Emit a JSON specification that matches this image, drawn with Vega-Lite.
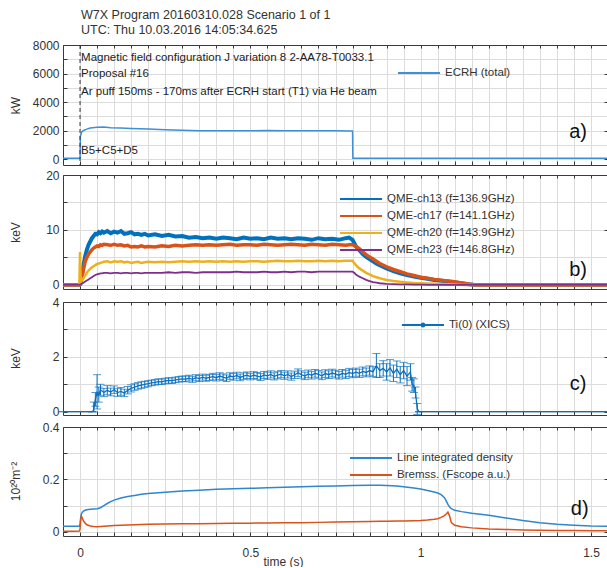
{
 "$schema": "https://vega.github.io/schema/vega-lite/v6.json",
 "padding": {"left": 8, "top": 8, "right": 0, "bottom": 0},
 "background": "white",
 "spacing": 3,
 "resolve": {"scale": {"color": "independent"}, "legend": {"color": "independent"}},
 "config": {
  "font": "Liberation Sans",
  "view": {"stroke": null},
  "axis": {"domainColor": "#3a3a3a", "tickColor": "#3a3a3a", "gridColor": "#dcdcdc", "labelColor": "#333", "labelFont": "Liberation Sans", "labelFontSize": 12, "titleFont": "Liberation Sans", "titleFontSize": 12, "titleFontWeight": "normal", "titleColor": "#333", "tickSize": -4, "domainWidth": 1, "labelPadding": 8},
  "legend": {"orient": "none", "padding": 0, "labelFont": "Liberation Sans", "labelFontSize": 11.5, "labelColor": "#333", "symbolType": "M-4.2,0H4.2", "symbolStrokeWidth": 2, "symbolSize": 100, "title": null, "labelOffset": 20, "rowPadding": 5}
 },
 "datasets": {
  "ecrh": [
   {"t": -0.05, "p": 50}, {"t": -0.001, "p": 50}, {"t": 0.0, "p": 50}, {"t": 0.001, "p": 1600}, {"t": 0.005, "p": 1900}, {"t": 0.01, "p": 2000}, {"t": 0.02, "p": 2100}, {"t": 0.03, "p": 2180}, {"t": 0.05, "p": 2230}, {"t": 0.07, "p": 2250}, {"t": 0.09, "p": 2200}, {"t": 0.12, "p": 2170}, {"t": 0.15, "p": 2140}, {"t": 0.2, "p": 2100}, {"t": 0.25, "p": 2060}, {"t": 0.3, "p": 2020}, {"t": 0.35, "p": 1990}, {"t": 0.4, "p": 1980}, {"t": 0.45, "p": 1990}, {"t": 0.5, "p": 1980}, {"t": 0.55, "p": 2000}, {"t": 0.6, "p": 1990}, {"t": 0.65, "p": 1980}, {"t": 0.7, "p": 1990}, {"t": 0.75, "p": 1980}, {"t": 0.79, "p": 1970}, {"t": 0.8, "p": 1970}, {"t": 0.801, "p": 50}, {"t": 1.55, "p": 50}
  ],
  "notesA": [
   {"t": 0.003, "v": 7087, "s": "Magnetic field configuration J variation 8 2-AA78-T0033.1"},
   {"t": 0.003, "v": 5965, "s": "Proposal #16"},
   {"t": 0.003, "v": 4701, "s": "Ar puff  150ms - 170ms after ECRH start (T1)  via He beam"},
   {"t": 0.003, "v": 561, "s": "B5+C5+D5"}
  ],
  "qme": [
   {"t": -0.05, "ch13": 0, "ch17": 0, "ch20": 0, "ch23": 0},
   {"t": -0.002, "ch13": 0, "ch17": 0, "ch20": 0, "ch23": 0},
   {"t": 0.0, "ch13": 0.1, "ch17": 0.1, "ch20": 6.0, "ch23": 0.05},
   {"t": 0.002, "ch13": 0.3, "ch17": 0.3, "ch20": 0.4, "ch23": 0.1},
   {"t": 0.005, "ch13": 1.5, "ch17": 1.2, "ch20": 0.8, "ch23": 0.2},
   {"t": 0.01, "ch13": 3.5, "ch17": 2.8, "ch20": 1.2, "ch23": 0.4},
   {"t": 0.015, "ch13": 5.2, "ch17": 4.2, "ch20": 1.7, "ch23": 0.6},
   {"t": 0.02, "ch13": 6.4, "ch17": 5.0, "ch20": 2.2, "ch23": 0.8},
   {"t": 0.025, "ch13": 7.3, "ch17": 5.6, "ch20": 2.6, "ch23": 1.0},
   {"t": 0.03, "ch13": 7.9, "ch17": 6.0, "ch20": 2.9, "ch23": 1.2},
   {"t": 0.035, "ch13": 8.5, "ch17": 6.4, "ch20": 3.2, "ch23": 1.4},
   {"t": 0.04, "ch13": 8.9, "ch17": 6.7, "ch20": 3.4, "ch23": 1.6},
   {"t": 0.045, "ch13": 9.3, "ch17": 6.9, "ch20": 3.6, "ch23": 1.8},
   {"t": 0.05, "ch13": 9.2, "ch17": 7.1, "ch20": 3.8, "ch23": 1.9},
   {"t": 0.055, "ch13": 9.6, "ch17": 7.0, "ch20": 3.9, "ch23": 2.0},
   {"t": 0.06, "ch13": 9.4, "ch17": 7.3, "ch20": 4.0, "ch23": 2.1},
   {"t": 0.065, "ch13": 9.7, "ch17": 7.2, "ch20": 4.1, "ch23": 2.1},
   {"t": 0.07, "ch13": 9.5, "ch17": 7.4, "ch20": 4.2, "ch23": 2.2},
   {"t": 0.08, "ch13": 9.8, "ch17": 7.3, "ch20": 4.3, "ch23": 2.2},
   {"t": 0.09, "ch13": 9.4, "ch17": 7.2, "ch20": 4.1, "ch23": 2.1},
   {"t": 0.1, "ch13": 9.7, "ch17": 7.4, "ch20": 4.3, "ch23": 2.2},
   {"t": 0.11, "ch13": 9.5, "ch17": 7.2, "ch20": 4.2, "ch23": 2.2},
   {"t": 0.12, "ch13": 9.8, "ch17": 7.3, "ch20": 4.3, "ch23": 2.1},
   {"t": 0.13, "ch13": 9.3, "ch17": 7.1, "ch20": 4.1, "ch23": 2.2},
   {"t": 0.14, "ch13": 9.4, "ch17": 7.2, "ch20": 4.2, "ch23": 2.2},
   {"t": 0.15, "ch13": 9.6, "ch17": 6.9, "ch20": 4.0, "ch23": 2.1},
   {"t": 0.16, "ch13": 9.2, "ch17": 7.0, "ch20": 4.1, "ch23": 2.2},
   {"t": 0.17, "ch13": 9.3, "ch17": 6.9, "ch20": 4.2, "ch23": 2.2},
   {"t": 0.18, "ch13": 9.1, "ch17": 7.1, "ch20": 4.0, "ch23": 2.1},
   {"t": 0.19, "ch13": 9.3, "ch17": 6.9, "ch20": 4.1, "ch23": 2.2},
   {"t": 0.2, "ch13": 9.0, "ch17": 7.0, "ch20": 4.2, "ch23": 2.2},
   {"t": 0.22, "ch13": 9.2, "ch17": 6.9, "ch20": 4.1, "ch23": 2.2},
   {"t": 0.24, "ch13": 8.9, "ch17": 7.1, "ch20": 4.2, "ch23": 2.2},
   {"t": 0.26, "ch13": 9.1, "ch17": 7.0, "ch20": 4.1, "ch23": 2.3},
   {"t": 0.28, "ch13": 8.8, "ch17": 7.2, "ch20": 4.2, "ch23": 2.2},
   {"t": 0.3, "ch13": 8.9, "ch17": 7.1, "ch20": 4.3, "ch23": 2.3},
   {"t": 0.32, "ch13": 8.6, "ch17": 7.2, "ch20": 4.2, "ch23": 2.3},
   {"t": 0.34, "ch13": 8.7, "ch17": 7.3, "ch20": 4.3, "ch23": 2.2},
   {"t": 0.36, "ch13": 8.5, "ch17": 7.2, "ch20": 4.2, "ch23": 2.3},
   {"t": 0.38, "ch13": 8.6, "ch17": 7.3, "ch20": 4.3, "ch23": 2.3},
   {"t": 0.4, "ch13": 8.4, "ch17": 7.2, "ch20": 4.2, "ch23": 2.3},
   {"t": 0.42, "ch13": 8.6, "ch17": 7.3, "ch20": 4.3, "ch23": 2.3},
   {"t": 0.44, "ch13": 8.5, "ch17": 7.4, "ch20": 4.2, "ch23": 2.3},
   {"t": 0.46, "ch13": 8.3, "ch17": 7.2, "ch20": 4.3, "ch23": 2.4},
   {"t": 0.48, "ch13": 8.6, "ch17": 7.3, "ch20": 4.2, "ch23": 2.3},
   {"t": 0.5, "ch13": 8.4, "ch17": 7.3, "ch20": 4.3, "ch23": 2.3},
   {"t": 0.52, "ch13": 8.5, "ch17": 7.2, "ch20": 4.3, "ch23": 2.3},
   {"t": 0.54, "ch13": 8.3, "ch17": 7.4, "ch20": 4.2, "ch23": 2.4},
   {"t": 0.56, "ch13": 8.6, "ch17": 7.3, "ch20": 4.3, "ch23": 2.3},
   {"t": 0.58, "ch13": 8.4, "ch17": 7.2, "ch20": 4.4, "ch23": 2.3},
   {"t": 0.6, "ch13": 8.5, "ch17": 7.3, "ch20": 4.3, "ch23": 2.4},
   {"t": 0.62, "ch13": 8.3, "ch17": 7.4, "ch20": 4.3, "ch23": 2.3},
   {"t": 0.64, "ch13": 8.5, "ch17": 7.3, "ch20": 4.4, "ch23": 2.4},
   {"t": 0.66, "ch13": 8.4, "ch17": 7.2, "ch20": 4.3, "ch23": 2.4},
   {"t": 0.68, "ch13": 8.2, "ch17": 7.4, "ch20": 4.3, "ch23": 2.3},
   {"t": 0.7, "ch13": 8.5, "ch17": 7.3, "ch20": 4.4, "ch23": 2.4},
   {"t": 0.72, "ch13": 8.3, "ch17": 7.2, "ch20": 4.3, "ch23": 2.4},
   {"t": 0.74, "ch13": 8.4, "ch17": 7.4, "ch20": 4.4, "ch23": 2.4},
   {"t": 0.76, "ch13": 8.2, "ch17": 7.3, "ch20": 4.3, "ch23": 2.4},
   {"t": 0.78, "ch13": 8.5, "ch17": 7.2, "ch20": 4.4, "ch23": 2.4},
   {"t": 0.79, "ch13": 8.6, "ch17": 7.3, "ch20": 4.4, "ch23": 2.4},
   {"t": 0.8, "ch13": 8.2, "ch17": 7.3, "ch20": 4.4, "ch23": 2.4},
   {"t": 0.805, "ch13": 7.6, "ch17": 7.2, "ch20": 4.0, "ch23": 2.2},
   {"t": 0.81, "ch13": 7.0, "ch17": 7.0, "ch20": 3.6, "ch23": 1.9},
   {"t": 0.82, "ch13": 6.3, "ch17": 6.6, "ch20": 3.0, "ch23": 1.5},
   {"t": 0.83, "ch13": 5.6, "ch17": 6.0, "ch20": 2.6, "ch23": 1.2},
   {"t": 0.84, "ch13": 5.1, "ch17": 5.5, "ch20": 2.2, "ch23": 0.9},
   {"t": 0.85, "ch13": 4.7, "ch17": 5.1, "ch20": 1.9, "ch23": 0.7},
   {"t": 0.86, "ch13": 4.3, "ch17": 4.7, "ch20": 1.6, "ch23": 0.5},
   {"t": 0.87, "ch13": 3.9, "ch17": 4.3, "ch20": 1.4, "ch23": 0.4},
   {"t": 0.88, "ch13": 3.6, "ch17": 3.9, "ch20": 1.2, "ch23": 0.3},
   {"t": 0.9, "ch13": 3.0, "ch17": 3.3, "ch20": 0.9, "ch23": 0.2},
   {"t": 0.92, "ch13": 2.5, "ch17": 2.8, "ch20": 0.7, "ch23": 0.15},
   {"t": 0.94, "ch13": 2.1, "ch17": 2.4, "ch20": 0.55, "ch23": 0.1},
   {"t": 0.96, "ch13": 1.8, "ch17": 2.0, "ch20": 0.45, "ch23": 0.1},
   {"t": 0.98, "ch13": 1.5, "ch17": 1.7, "ch20": 0.35, "ch23": 0.05},
   {"t": 1.0, "ch13": 1.3, "ch17": 1.4, "ch20": 0.3, "ch23": 0.05},
   {"t": 1.02, "ch13": 1.1, "ch17": 1.2, "ch20": 0.25, "ch23": 0.0},
   {"t": 1.04, "ch13": 0.9, "ch17": 1.0, "ch20": 0.2, "ch23": 0.0},
   {"t": 1.06, "ch13": 0.75, "ch17": 0.85, "ch20": 0.15, "ch23": 0.0},
   {"t": 1.08, "ch13": 0.6, "ch17": 0.7, "ch20": 0.1, "ch23": 0.0},
   {"t": 1.1, "ch13": 0.45, "ch17": 0.55, "ch20": 0.05, "ch23": 0.0},
   {"t": 1.12, "ch13": 0.3, "ch17": 0.35, "ch20": 0.0, "ch23": 0.0},
   {"t": 1.14, "ch13": 0.1, "ch17": 0.15, "ch20": 0.0, "ch23": 0.0},
   {"t": 1.16, "ch13": 0.0, "ch17": 0.0, "ch20": 0.0, "ch23": 0.0},
   {"t": 1.55, "ch13": 0.0, "ch17": 0.0, "ch20": 0.0, "ch23": 0.0}
  ],
  "ti": [
   {"t": -0.05, "ti": 0, "lo": 0, "hi": 0}, {"t": 0.035, "ti": 0, "lo": 0, "hi": 0},
   {"t": 0.04, "ti": 0.05, "lo": 0, "hi": 0.35}, {"t": 0.045, "ti": 0.45, "lo": 0.2, "hi": 0.7},
   {"t": 0.05, "ti": 0.7, "lo": 0.1, "hi": 1.35}, {"t": 0.055, "ti": 0.6, "lo": 0.35, "hi": 0.9},
   {"t": 0.06, "ti": 0.8, "lo": 0.6, "hi": 1.0}, {"t": 0.07, "ti": 0.7, "lo": 0.55, "hi": 0.85},
   {"t": 0.08, "ti": 0.78, "lo": 0.62, "hi": 0.95}, {"t": 0.09, "ti": 0.72, "lo": 0.58, "hi": 0.86},
   {"t": 0.1, "ti": 0.8, "lo": 0.66, "hi": 0.94}, {"t": 0.11, "ti": 0.7, "lo": 0.56, "hi": 0.84},
   {"t": 0.12, "ti": 0.74, "lo": 0.6, "hi": 0.88}, {"t": 0.13, "ti": 0.68, "lo": 0.55, "hi": 0.82},
   {"t": 0.14, "ti": 0.78, "lo": 0.65, "hi": 0.92}, {"t": 0.15, "ti": 0.85, "lo": 0.72, "hi": 0.98},
   {"t": 0.16, "ti": 0.9, "lo": 0.78, "hi": 1.02}, {"t": 0.17, "ti": 0.94, "lo": 0.82, "hi": 1.06},
   {"t": 0.18, "ti": 0.97, "lo": 0.85, "hi": 1.09}, {"t": 0.19, "ti": 1.0, "lo": 0.89, "hi": 1.11},
   {"t": 0.2, "ti": 1.02, "lo": 0.91, "hi": 1.13}, {"t": 0.21, "ti": 1.05, "lo": 0.95, "hi": 1.15},
   {"t": 0.22, "ti": 1.07, "lo": 0.97, "hi": 1.17}, {"t": 0.23, "ti": 1.1, "lo": 1.0, "hi": 1.2},
   {"t": 0.24, "ti": 1.09, "lo": 0.99, "hi": 1.19}, {"t": 0.25, "ti": 1.12, "lo": 1.02, "hi": 1.22},
   {"t": 0.26, "ti": 1.14, "lo": 1.04, "hi": 1.24}, {"t": 0.27, "ti": 1.13, "lo": 1.03, "hi": 1.23},
   {"t": 0.28, "ti": 1.16, "lo": 1.06, "hi": 1.26}, {"t": 0.29, "ti": 1.18, "lo": 1.08, "hi": 1.28},
   {"t": 0.3, "ti": 1.2, "lo": 1.1, "hi": 1.3}, {"t": 0.31, "ti": 1.19, "lo": 1.09, "hi": 1.3},
   {"t": 0.32, "ti": 1.22, "lo": 1.12, "hi": 1.33}, {"t": 0.33, "ti": 1.18, "lo": 1.07, "hi": 1.29},
   {"t": 0.34, "ti": 1.24, "lo": 1.13, "hi": 1.35}, {"t": 0.35, "ti": 1.21, "lo": 1.1, "hi": 1.32},
   {"t": 0.36, "ti": 1.26, "lo": 1.15, "hi": 1.37}, {"t": 0.37, "ti": 1.22, "lo": 1.11, "hi": 1.33},
   {"t": 0.38, "ti": 1.25, "lo": 1.14, "hi": 1.36}, {"t": 0.39, "ti": 1.28, "lo": 1.16, "hi": 1.4},
   {"t": 0.4, "ti": 1.24, "lo": 1.12, "hi": 1.36}, {"t": 0.41, "ti": 1.3, "lo": 1.18, "hi": 1.42},
   {"t": 0.42, "ti": 1.26, "lo": 1.14, "hi": 1.38}, {"t": 0.43, "ti": 1.22, "lo": 1.1, "hi": 1.34},
   {"t": 0.44, "ti": 1.3, "lo": 1.18, "hi": 1.42}, {"t": 0.45, "ti": 1.27, "lo": 1.15, "hi": 1.39},
   {"t": 0.46, "ti": 1.32, "lo": 1.2, "hi": 1.44}, {"t": 0.47, "ti": 1.25, "lo": 1.13, "hi": 1.37},
   {"t": 0.48, "ti": 1.3, "lo": 1.18, "hi": 1.42}, {"t": 0.49, "ti": 1.33, "lo": 1.21, "hi": 1.45},
   {"t": 0.5, "ti": 1.28, "lo": 1.16, "hi": 1.4}, {"t": 0.51, "ti": 1.33, "lo": 1.21, "hi": 1.46},
   {"t": 0.52, "ti": 1.3, "lo": 1.18, "hi": 1.43}, {"t": 0.53, "ti": 1.26, "lo": 1.14, "hi": 1.39},
   {"t": 0.54, "ti": 1.34, "lo": 1.21, "hi": 1.47}, {"t": 0.55, "ti": 1.31, "lo": 1.18, "hi": 1.44},
   {"t": 0.56, "ti": 1.36, "lo": 1.23, "hi": 1.49}, {"t": 0.57, "ti": 1.29, "lo": 1.16, "hi": 1.42},
   {"t": 0.58, "ti": 1.33, "lo": 1.2, "hi": 1.46}, {"t": 0.59, "ti": 1.37, "lo": 1.24, "hi": 1.5},
   {"t": 0.6, "ti": 1.31, "lo": 1.18, "hi": 1.44}, {"t": 0.61, "ti": 1.36, "lo": 1.23, "hi": 1.49},
   {"t": 0.62, "ti": 1.28, "lo": 1.15, "hi": 1.41}, {"t": 0.63, "ti": 1.34, "lo": 1.21, "hi": 1.48},
   {"t": 0.64, "ti": 1.42, "lo": 1.28, "hi": 1.56}, {"t": 0.65, "ti": 1.35, "lo": 1.22, "hi": 1.49},
   {"t": 0.66, "ti": 1.3, "lo": 1.17, "hi": 1.44}, {"t": 0.67, "ti": 1.38, "lo": 1.24, "hi": 1.52},
   {"t": 0.68, "ti": 1.33, "lo": 1.19, "hi": 1.47}, {"t": 0.69, "ti": 1.4, "lo": 1.26, "hi": 1.54},
   {"t": 0.7, "ti": 1.36, "lo": 1.22, "hi": 1.5}, {"t": 0.71, "ti": 1.31, "lo": 1.17, "hi": 1.45},
   {"t": 0.72, "ti": 1.39, "lo": 1.25, "hi": 1.53}, {"t": 0.73, "ti": 1.35, "lo": 1.21, "hi": 1.49},
   {"t": 0.74, "ti": 1.41, "lo": 1.27, "hi": 1.55}, {"t": 0.75, "ti": 1.37, "lo": 1.23, "hi": 1.51},
   {"t": 0.76, "ti": 1.33, "lo": 1.19, "hi": 1.47}, {"t": 0.77, "ti": 1.4, "lo": 1.26, "hi": 1.54},
   {"t": 0.78, "ti": 1.36, "lo": 1.21, "hi": 1.51}, {"t": 0.79, "ti": 1.43, "lo": 1.28, "hi": 1.58},
   {"t": 0.8, "ti": 1.39, "lo": 1.24, "hi": 1.54}, {"t": 0.81, "ti": 1.44, "lo": 1.29, "hi": 1.59},
   {"t": 0.82, "ti": 1.4, "lo": 1.25, "hi": 1.55}, {"t": 0.83, "ti": 1.47, "lo": 1.31, "hi": 1.63},
   {"t": 0.84, "ti": 1.43, "lo": 1.27, "hi": 1.59}, {"t": 0.85, "ti": 1.5, "lo": 1.33, "hi": 1.67},
   {"t": 0.86, "ti": 1.46, "lo": 1.28, "hi": 1.64}, {"t": 0.87, "ti": 1.68, "lo": 1.25, "hi": 2.12},
   {"t": 0.88, "ti": 1.5, "lo": 1.25, "hi": 1.75}, {"t": 0.89, "ti": 1.58, "lo": 1.3, "hi": 1.86},
   {"t": 0.9, "ti": 1.45, "lo": 1.15, "hi": 1.75}, {"t": 0.91, "ti": 1.6, "lo": 1.3, "hi": 1.9},
   {"t": 0.92, "ti": 1.4, "lo": 1.1, "hi": 1.7}, {"t": 0.93, "ti": 1.55, "lo": 1.25, "hi": 1.85},
   {"t": 0.94, "ti": 1.35, "lo": 1.05, "hi": 1.65}, {"t": 0.95, "ti": 1.5, "lo": 1.2, "hi": 1.8},
   {"t": 0.96, "ti": 1.3, "lo": 0.95, "hi": 1.65}, {"t": 0.97, "ti": 1.45, "lo": 1.15, "hi": 1.75},
   {"t": 0.975, "ti": 1.0, "lo": 0.75, "hi": 1.25}, {"t": 0.98, "ti": 0.95, "lo": 0.7, "hi": 1.2},
   {"t": 0.985, "ti": 0.7, "lo": 0.5, "hi": 0.9}, {"t": 0.99, "ti": 0.1, "lo": -0.1, "hi": 0.3},
   {"t": 0.995, "ti": 0, "lo": 0, "hi": 0}, {"t": 1.55, "ti": 0, "lo": 0, "hi": 0}
  ],
  "dens": [
   {"t": -0.05, "d1": 0.021, "d2": 0.002}, {"t": -0.02, "d1": 0.021, "d2": 0.002}, {"t": -0.002, "d1": 0.021, "d2": 0.003},
   {"t": 0.0, "d1": 0.03, "d2": 0.01}, {"t": 0.002, "d1": 0.055, "d2": 0.045}, {"t": 0.004, "d1": 0.068, "d2": 0.06},
   {"t": 0.007, "d1": 0.075, "d2": 0.052}, {"t": 0.01, "d1": 0.079, "d2": 0.042}, {"t": 0.015, "d1": 0.082, "d2": 0.033},
   {"t": 0.02, "d1": 0.084, "d2": 0.027}, {"t": 0.03, "d1": 0.086, "d2": 0.022}, {"t": 0.04, "d1": 0.087, "d2": 0.02},
   {"t": 0.05, "d1": 0.088, "d2": 0.019}, {"t": 0.06, "d1": 0.092, "d2": 0.02}, {"t": 0.07, "d1": 0.1, "d2": 0.021},
   {"t": 0.08, "d1": 0.108, "d2": 0.022}, {"t": 0.09, "d1": 0.115, "d2": 0.023}, {"t": 0.1, "d1": 0.121, "d2": 0.024},
   {"t": 0.12, "d1": 0.129, "d2": 0.025}, {"t": 0.14, "d1": 0.135, "d2": 0.026}, {"t": 0.16, "d1": 0.139, "d2": 0.027},
   {"t": 0.18, "d1": 0.143, "d2": 0.028}, {"t": 0.2, "d1": 0.146, "d2": 0.029}, {"t": 0.25, "d1": 0.151, "d2": 0.03},
   {"t": 0.3, "d1": 0.156, "d2": 0.031}, {"t": 0.35, "d1": 0.159, "d2": 0.031}, {"t": 0.4, "d1": 0.162, "d2": 0.032},
   {"t": 0.45, "d1": 0.164, "d2": 0.033}, {"t": 0.5, "d1": 0.166, "d2": 0.033}, {"t": 0.55, "d1": 0.168, "d2": 0.034},
   {"t": 0.6, "d1": 0.17, "d2": 0.035}, {"t": 0.65, "d1": 0.172, "d2": 0.035}, {"t": 0.7, "d1": 0.174, "d2": 0.036},
   {"t": 0.75, "d1": 0.175, "d2": 0.037}, {"t": 0.8, "d1": 0.177, "d2": 0.038}, {"t": 0.85, "d1": 0.178, "d2": 0.039},
   {"t": 0.88, "d1": 0.178, "d2": 0.04}, {"t": 0.9, "d1": 0.177, "d2": 0.04}, {"t": 0.93, "d1": 0.175, "d2": 0.041},
   {"t": 0.95, "d1": 0.172, "d2": 0.041}, {"t": 0.98, "d1": 0.167, "d2": 0.042}, {"t": 1.0, "d1": 0.163, "d2": 0.043},
   {"t": 1.02, "d1": 0.158, "d2": 0.045}, {"t": 1.04, "d1": 0.152, "d2": 0.048}, {"t": 1.05, "d1": 0.148, "d2": 0.05},
   {"t": 1.06, "d1": 0.142, "d2": 0.055}, {"t": 1.07, "d1": 0.13, "d2": 0.062}, {"t": 1.075, "d1": 0.118, "d2": 0.068},
   {"t": 1.08, "d1": 0.105, "d2": 0.075}, {"t": 1.085, "d1": 0.095, "d2": 0.06}, {"t": 1.09, "d1": 0.088, "d2": 0.035},
   {"t": 1.1, "d1": 0.082, "d2": 0.025}, {"t": 1.12, "d1": 0.077, "d2": 0.019}, {"t": 1.15, "d1": 0.071, "d2": 0.015},
   {"t": 1.2, "d1": 0.063, "d2": 0.011}, {"t": 1.25, "d1": 0.053, "d2": 0.009}, {"t": 1.3, "d1": 0.043, "d2": 0.007},
   {"t": 1.35, "d1": 0.035, "d2": 0.006}, {"t": 1.4, "d1": 0.029, "d2": 0.005}, {"t": 1.45, "d1": 0.025, "d2": 0.005},
   {"t": 1.5, "d1": 0.022, "d2": 0.004}, {"t": 1.55, "d1": 0.021, "d2": 0.004}
  ]
 },
 "vconcat": [
  {
   "width": 545, "height": 120,
   "title": {"text": ["W7X Program 20160310.028 Scenario 1 of 1", "UTC: Thu 10.03.2016 14:05:34.625"], "anchor": "start", "frame": "group", "dx": 18, "fontSize": 12.5, "fontWeight": "normal", "color": "#333", "lineHeight": 15, "offset": 3, "font": "Liberation Sans"},
   "layer": [
    {"data": {"name": "ecrh"}, "mark": {"type": "line", "strokeWidth": 1.5},
     "encoding": {
      "x": {"field": "t", "type": "quantitative", "scale": {"domain": [-0.05, 1.55], "nice": false, "zero": false}, "axis": {"orient": "bottom", "values": [0,0.05,0.1,0.15,0.2,0.25,0.3,0.35,0.4,0.45,0.5,0.55,0.6,0.65,0.7,0.75,0.8,0.85,0.9,0.95,1,1.05,1.1,1.15,1.2,1.25,1.3,1.35,1.4,1.45,1.5], "grid": true, "labels": false, "title": null}},
      "y": {"field": "p", "type": "quantitative", "scale": {"domain": [-420, 8000], "nice": false, "zero": false}, "axis": {"orient": "left", "values": [0,1000,2000,3000,4000,5000,6000,7000,8000], "grid": true, "format": "d", "labelExpr": "datum.value % 2000 == 0 ? datum.label : ''", "title": "kW", "titleX": -48, "titleY": 60, "titleAngle": -90, "titleBaseline": "middle", "titleAlign": "center"}},
      "color": {"datum": "ECRH (total)", "scale": {"range": ["#3d8fd6"]}, "legend": {"legendX": 350, "legendY": 22}}
     }},
    {"data": {"values": [{"t": 0}]}, "mark": {"type": "rule", "strokeDash": [4, 3], "color": "#333", "strokeWidth": 1},
     "encoding": {"x": {"field": "t", "type": "quantitative", "axis": null}}},
    {"data": {"name": "notesA"}, "mark": {"type": "text", "align": "left", "baseline": "middle", "fontSize": 11.5, "color": "#222", "font": "Liberation Sans"},
     "encoding": {"x": {"field": "t", "type": "quantitative", "axis": null}, "y": {"field": "v", "type": "quantitative", "axis": null}, "text": {"field": "s"}}},
    {"data": {"values": [{"t": 1.462, "v": 1895, "s": "a)"}]}, "mark": {"type": "text", "fontSize": 20, "color": "#111", "align": "center", "baseline": "middle", "font": "Liberation Sans"},
     "encoding": {
      "x": {"field": "t", "type": "quantitative", "axis": {"orient": "top", "values": [0,0.05,0.1,0.15,0.2,0.25,0.3,0.35,0.4,0.45,0.5,0.55,0.6,0.65,0.7,0.75,0.8,0.85,0.9,0.95,1,1.05,1.1,1.15,1.2,1.25,1.3,1.35,1.4,1.45,1.5], "grid": false, "labels": false, "title": null, "tickSize": -3}},
      "y": {"field": "v", "type": "quantitative", "axis": {"orient": "right", "values": [0,2000,4000,6000,8000], "grid": false, "labels": false, "title": null}},
      "text": {"field": "s"}}}
   ],
   "resolve": {"axis": {"x": "independent", "y": "independent"}}
  },
  {
   "width": 545, "height": 114,
   "layer": [
    {"data": {"name": "qme"}, "mark": {"type": "line", "strokeWidth": 4},
     "encoding": {
      "x": {"field": "t", "type": "quantitative", "scale": {"domain": [-0.05, 1.55], "nice": false, "zero": false}, "axis": {"orient": "bottom", "values": [0,0.05,0.1,0.15,0.2,0.25,0.3,0.35,0.4,0.45,0.5,0.55,0.6,0.65,0.7,0.75,0.8,0.85,0.9,0.95,1,1.05,1.1,1.15,1.2,1.25,1.3,1.35,1.4,1.45,1.5], "grid": true, "labels": false, "title": null}},
      "y": {"field": "ch13", "type": "quantitative", "scale": {"domain": [-0.75, 20], "nice": false, "zero": false}, "axis": {"orient": "left", "values": [0,5,10,15,20], "grid": true, "format": "d", "labelExpr": "datum.value % 10 == 0 ? datum.label : ''", "title": "keV", "titleX": -48, "titleY": 57, "titleAngle": -90, "titleBaseline": "middle", "titleAlign": "center"}},
      "color": {"datum": "QME-ch13 (f=136.9GHz)", "scale": {"domain": ["QME-ch13 (f=136.9GHz)", "QME-ch17 (f=141.1GHz)", "QME-ch20 (f=143.9GHz)", "QME-ch23 (f=146.8GHz)"], "range": ["#0072BD", "#D95319", "#EDB120", "#7E2F8E"]},
       "legend": {"legendX": 292, "legendY": 18}}
     }},
    {"data": {"name": "qme"}, "mark": {"type": "line", "strokeWidth": 3.5},
     "encoding": {
      "x": {"field": "t", "type": "quantitative", "axis": null},
      "y": {"field": "ch17", "type": "quantitative", "axis": null},
      "color": {"datum": "QME-ch17 (f=141.1GHz)"}}},
    {"data": {"name": "qme"}, "mark": {"type": "line", "strokeWidth": 2.5},
     "encoding": {
      "x": {"field": "t", "type": "quantitative", "axis": null},
      "y": {"field": "ch20", "type": "quantitative", "axis": null},
      "color": {"datum": "QME-ch20 (f=143.9GHz)"}}},
    {"data": {"name": "qme"}, "mark": {"type": "line", "strokeWidth": 1.8},
     "encoding": {
      "x": {"field": "t", "type": "quantitative", "axis": null},
      "y": {"field": "ch23", "type": "quantitative", "axis": null},
      "color": {"datum": "QME-ch23 (f=146.8GHz)"}}},
    {"data": {"values": [{"t": 1.462, "v": 2.75, "s": "b)"}]}, "mark": {"type": "text", "fontSize": 20, "color": "#111", "align": "center", "baseline": "middle", "font": "Liberation Sans"},
     "encoding": {
      "x": {"field": "t", "type": "quantitative", "axis": {"orient": "top", "values": [0,0.05,0.1,0.15,0.2,0.25,0.3,0.35,0.4,0.45,0.5,0.55,0.6,0.65,0.7,0.75,0.8,0.85,0.9,0.95,1,1.05,1.1,1.15,1.2,1.25,1.3,1.35,1.4,1.45,1.5], "grid": false, "labels": false, "title": null, "tickSize": -3}},
      "y": {"field": "v", "type": "quantitative", "axis": {"orient": "right", "values": [0,10,20], "grid": false, "labels": false, "title": null}},
      "text": {"field": "s"}}}
   ],
   "resolve": {"axis": {"x": "independent", "y": "independent"}}
  },
  {
   "width": 545, "height": 113,
   "layer": [
    {"data": {"name": "ti"}, "mark": {"type": "line", "strokeWidth": 1.3},
     "encoding": {
      "x": {"field": "t", "type": "quantitative", "scale": {"domain": [-0.05, 1.55], "nice": false, "zero": false}, "axis": {"orient": "bottom", "values": [0,0.05,0.1,0.15,0.2,0.25,0.3,0.35,0.4,0.45,0.5,0.55,0.6,0.65,0.7,0.75,0.8,0.85,0.9,0.95,1,1.05,1.1,1.15,1.2,1.25,1.3,1.35,1.4,1.45,1.5], "grid": true, "labels": false, "title": null}},
      "y": {"field": "ti", "type": "quantitative", "scale": {"domain": [-0.12, 4], "nice": false, "zero": false}, "axis": {"orient": "left", "values": [0,1,2,3,4], "grid": true, "format": "d", "labelExpr": "datum.value % 2 == 0 ? datum.label : ''", "title": "keV", "titleX": -48, "titleY": 56, "titleAngle": -90, "titleBaseline": "middle", "titleAlign": "center"}},
      "color": {"datum": "Ti(0) (XICS)", "scale": {"range": ["#0a6fbd"]}, "legend": {"legendX": 354, "legendY": 17, "symbolType": "M-4.2,0H4.2M-0.3,0A0.3,0.3 0 1 1 0.3,0A0.3,0.3 0 1 1 -0.3,0"}}
     }},
    {"data": {"name": "ti"}, "mark": {"type": "rule", "color": "#0a6fbd", "strokeWidth": 1},
     "encoding": {"x": {"field": "t", "type": "quantitative", "axis": null}, "y": {"field": "lo", "type": "quantitative", "axis": null}, "y2": {"field": "hi"}}},
    {"data": {"name": "ti"}, "mark": {"type": "tick", "orient": "horizontal", "color": "#0a6fbd", "size": 8, "thickness": 1},
     "encoding": {"x": {"field": "t", "type": "quantitative", "axis": null}, "y": {"field": "lo", "type": "quantitative", "axis": null}}},
    {"data": {"name": "ti"}, "mark": {"type": "tick", "orient": "horizontal", "color": "#0a6fbd", "size": 8, "thickness": 1},
     "encoding": {"x": {"field": "t", "type": "quantitative", "axis": null}, "y": {"field": "hi", "type": "quantitative", "axis": null}}},
    {"data": {"values": [{"t": 1.462, "v": 1.0, "s": "c)"}]}, "mark": {"type": "text", "fontSize": 20, "color": "#111", "align": "center", "baseline": "middle", "font": "Liberation Sans"},
     "encoding": {
      "x": {"field": "t", "type": "quantitative", "axis": {"orient": "top", "values": [0,0.05,0.1,0.15,0.2,0.25,0.3,0.35,0.4,0.45,0.5,0.55,0.6,0.65,0.7,0.75,0.8,0.85,0.9,0.95,1,1.05,1.1,1.15,1.2,1.25,1.3,1.35,1.4,1.45,1.5], "grid": false, "labels": false, "title": null, "tickSize": -3}},
      "y": {"field": "v", "type": "quantitative", "axis": {"orient": "right", "values": [0,2,4], "grid": false, "labels": false, "title": null}},
      "text": {"field": "s"}}}
   ],
   "resolve": {"axis": {"x": "independent", "y": "independent"}}
  },
  {
   "width": 545, "height": 109,
   "layer": [
    {"data": {"name": "dens"}, "transform": [{"fold": ["d1", "d2"], "as": ["k", "v"]}],
     "mark": {"type": "line", "strokeWidth": 1.5},
     "encoding": {
      "x": {"field": "t", "type": "quantitative", "scale": {"domain": [-0.05, 1.55], "nice": false, "zero": false}, "axis": {"orient": "bottom", "values": [0,0.05,0.1,0.15,0.2,0.25,0.3,0.35,0.4,0.45,0.5,0.55,0.6,0.65,0.7,0.75,0.8,0.85,0.9,0.95,1,1.05,1.1,1.15,1.2,1.25,1.3,1.35,1.4,1.45,1.5], "grid": true, "format": "~g", "labelExpr": "datum.value == 0 || datum.value == 0.5 || datum.value == 1 || datum.value == 1.5 ? datum.label : ''", "labelPadding": 15, "title": "time (s)", "titleX": 220, "titleY": 25, "titleBaseline": "middle", "titleAlign": "center"}},
      "y": {"field": "v", "type": "quantitative", "scale": {"domain": [-0.016, 0.4], "nice": false, "zero": false}, "axis": {"orient": "left", "values": [0,0.1,0.2,0.3,0.4], "grid": true, "format": "~g", "labelExpr": "datum.value == 0 || datum.value == 0.2 || datum.value == 0.4 ? datum.label : ''", "title": "10²⁰m⁻²", "titleX": -48, "titleY": 54, "titleAngle": -90, "titleBaseline": "middle", "titleAlign": "center"}},
      "color": {"field": "k", "type": "nominal", "scale": {"domain": ["d1", "d2"], "range": ["#2f86cc", "#D95319"]},
       "legend": {"legendX": 302, "legendY": 25, "labelExpr": "datum.label == 'd1' ? 'Line integrated density' : 'Bremss. (Fscope a.u.)'"}}
     }},
    {"data": {"values": [{"t": 1.467, "v": 0.087, "s": "d)"}]}, "mark": {"type": "text", "fontSize": 20, "color": "#111", "align": "center", "baseline": "middle", "font": "Liberation Sans"},
     "encoding": {
      "x": {"field": "t", "type": "quantitative", "axis": {"orient": "top", "values": [0,0.05,0.1,0.15,0.2,0.25,0.3,0.35,0.4,0.45,0.5,0.55,0.6,0.65,0.7,0.75,0.8,0.85,0.9,0.95,1,1.05,1.1,1.15,1.2,1.25,1.3,1.35,1.4,1.45,1.5], "grid": false, "labels": false, "title": null, "tickSize": -3}},
      "y": {"field": "v", "type": "quantitative", "axis": {"orient": "right", "values": [0,0.2,0.4], "grid": false, "labels": false, "title": null}},
      "text": {"field": "s"}}}
   ],
   "resolve": {"axis": {"x": "independent", "y": "independent"}}
  }
 ]
}
